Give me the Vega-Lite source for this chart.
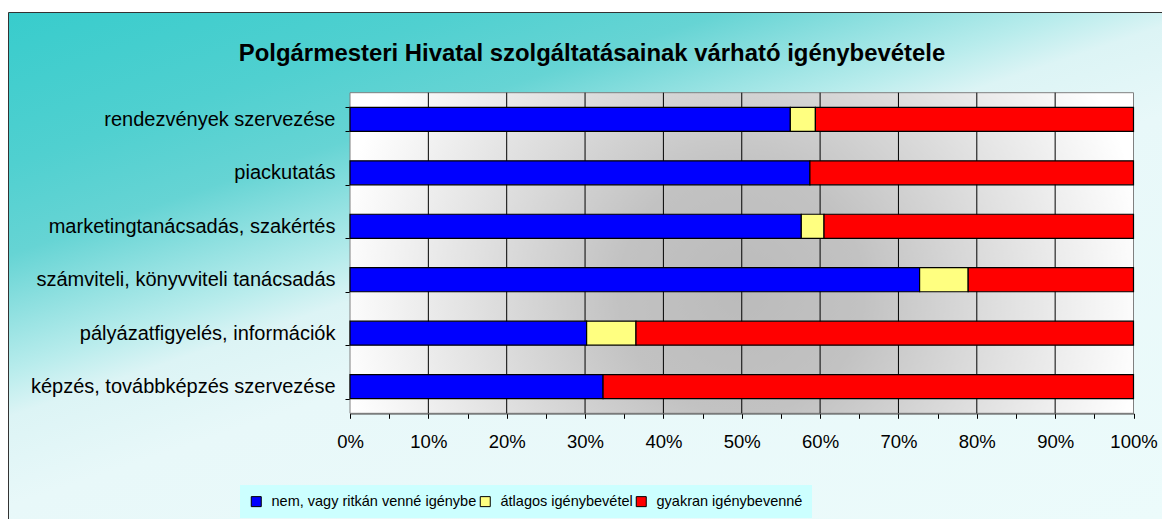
{
  "$schema": "https://vega.github.io/schema/vega-lite/v6.json",
  "width": 1154,
  "height": 507,
  "autosize": {"type": "none"},
  "padding": {"left": 8, "top": 12, "right": 0, "bottom": 0},
  "background": "#ffffff",
  "config": {
    "font": "Liberation Sans",
    "view": {
      "fill": {
        "gradient": "linear", "x1": 0, "y1": 0, "x2": 0.856, "y2": 1.112,
        "stops": [
          {"offset": 0, "color": "#38cccc"},
          {"offset": 0.17, "color": "#50d0d0"},
          {"offset": 0.27, "color": "#66d4d4"},
          {"offset": 0.4, "color": "#b8ecec"},
          {"offset": 0.45, "color": "#dcf4f5"},
          {"offset": 0.55, "color": "#e8f8f9"},
          {"offset": 1, "color": "#ecfbfb"}
        ]
      },
      "stroke": "#333333",
      "strokeWidth": 1
    },
    "axisX": {
      "title": null, "offset": -105.7, "zindex": 1, "grid": false,
      "values": [0, 0.1, 0.2, 0.3, 0.4, 0.5, 0.6, 0.7, 0.8, 0.9, 1],
      "format": ".0%",
      "domain": true, "domainColor": "#404040", "domainWidth": 1.5,
      "ticks": true, "tickSize": 5, "tickColor": "#000000",
      "labelFont": "Liberation Sans", "labelFontSize": 18.5, "labelColor": "#000000",
      "labelPadding": 14, "labelFlush": false
    },
    "axisY": {
      "title": null, "offset": -342, "zindex": 1, "grid": false,
      "domain": true, "domainColor": "#000000", "domainWidth": 1,
      "ticks": true, "tickBand": "extent", "tickSize": 5, "tickColor": "#000000",
      "labelFont": "Liberation Sans", "labelFontSize": 20, "labelColor": "#000000",
      "labelPadding": 10, "labelLimit": 600
    }
  },
  "title": {
    "text": "Polgármesteri Hivatal szolgáltatásainak várható igénybevétele",
    "font": "Liberation Sans",
    "fontSize": 23.9,
    "fontWeight": "bold",
    "color": "#000000",
    "anchor": "middle",
    "frame": "group",
    "baseline": "alphabetic",
    "offset": 0,
    "dy": 83,
    "dx": 7
  },
  "datasets": {
    "valaszok": [
      {"szolgáltatás": "rendezvények szervezése", "válasz": "nem, vagy ritkán venné igénybe", "arány": 56.2},
      {"szolgáltatás": "rendezvények szervezése", "válasz": "átlagos igénybevétel", "arány": 3.2},
      {"szolgáltatás": "rendezvények szervezése", "válasz": "gyakran igénybevenné", "arány": 40.6},
      {"szolgáltatás": "piackutatás", "válasz": "nem, vagy ritkán venné igénybe", "arány": 58.7},
      {"szolgáltatás": "piackutatás", "válasz": "gyakran igénybevenné", "arány": 41.3},
      {"szolgáltatás": "marketingtanácsadás, szakértés", "válasz": "nem, vagy ritkán venné igénybe", "arány": 57.6},
      {"szolgáltatás": "marketingtanácsadás, szakértés", "válasz": "átlagos igénybevétel", "arány": 2.9},
      {"szolgáltatás": "marketingtanácsadás, szakértés", "válasz": "gyakran igénybevenné", "arány": 39.5},
      {"szolgáltatás": "számviteli, könyvviteli tanácsadás", "válasz": "nem, vagy ritkán venné igénybe", "arány": 72.7},
      {"szolgáltatás": "számviteli, könyvviteli tanácsadás", "válasz": "átlagos igénybevétel", "arány": 6.2},
      {"szolgáltatás": "számviteli, könyvviteli tanácsadás", "válasz": "gyakran igénybevenné", "arány": 21.1},
      {"szolgáltatás": "pályázatfigyelés, információk", "válasz": "nem, vagy ritkán venné igénybe", "arány": 30.2},
      {"szolgáltatás": "pályázatfigyelés, információk", "válasz": "átlagos igénybevétel", "arány": 6.3},
      {"szolgáltatás": "pályázatfigyelés, információk", "válasz": "gyakran igénybevenné", "arány": 63.5},
      {"szolgáltatás": "képzés, továbbképzés szervezése", "válasz": "nem, vagy ritkán venné igénybe", "arány": 32.3},
      {"szolgáltatás": "képzés, továbbképzés szervezése", "válasz": "gyakran igénybevenné", "arány": 67.7}
    ],
    "racs": [
      {"osztás": 0.1}, {"osztás": 0.2}, {"osztás": 0.3}, {"osztás": 0.4}, {"osztás": 0.5},
      {"osztás": 0.6}, {"osztás": 0.7}, {"osztás": 0.8}, {"osztás": 0.9}
    ]
  },
  "layer": [
    {
      "data": {"values": [{}]},
      "mark": {
        "type": "rect",
        "stroke": "#808080",
        "strokeWidth": 1,
        "fill": {
          "gradient": "radial", "x1": 0.5, "y1": 0.55, "x2": 0.5, "y2": 0.55, "r1": 0, "r2": 0.52,
          "stops": [
            {"offset": 0, "color": "#bbbbbb"},
            {"offset": 0.3, "color": "#c2c2c2"},
            {"offset": 1, "color": "#ffffff"}
          ]
        }
      },
      "encoding": {
        "x": {"datum": 0, "type": "quantitative", "title": null, "scale": {"domain": [0, 1], "range": [342, 1125.5], "nice": false, "zero": false}},
        "x2": {"datum": 1},
        "y": {"datum": "rendezvények szervezése", "type": "nominal", "bandPosition": -0.6111, "title": null,
              "scale": {"domain": ["rendezvények szervezése", "piackutatás", "marketingtanácsadás, szakértés", "számviteli, könyvviteli tanácsadás", "pályázatfigyelés, információk", "képzés, továbbképzés szervezése"], "range": [80.7, 401.3], "paddingInner": 0.55, "paddingOuter": 0.275}},
        "y2": {"datum": "képzés, továbbképzés szervezése", "bandPosition": 1.6111}
      }
    },
    {
      "data": {"name": "racs"},
      "mark": {"type": "rule", "color": "#000000", "strokeWidth": 1},
      "encoding": {
        "x": {"field": "osztás", "type": "quantitative", "title": null, "scale": {"domain": [0, 1], "range": [342, 1125.5], "nice": false, "zero": false}},
        "y": {"datum": "rendezvények szervezése", "type": "nominal", "bandPosition": -0.6111, "title": null,
              "scale": {"domain": ["rendezvények szervezése", "piackutatás", "marketingtanácsadás, szakértés", "számviteli, könyvviteli tanácsadás", "pályázatfigyelés, információk", "képzés, továbbképzés szervezése"], "range": [80.7, 401.3], "paddingInner": 0.55, "paddingOuter": 0.275}},
        "y2": {"datum": "képzés, továbbképzés szervezése", "bandPosition": 1.6111}
      }
    },
    {
      "data": {"name": "valaszok"},
      "transform": [
        {"calculate": "indexof(['nem, vagy ritkán venné igénybe', 'átlagos igénybevétel', 'gyakran igénybevenné'], datum['válasz'])", "as": "sorrend"}
      ],
      "mark": {"type": "bar", "stroke": "#000000", "strokeWidth": 1.2},
      "encoding": {
        "y": {
          "field": "szolgáltatás", "type": "nominal", "title": null,
          "scale": {"domain": ["rendezvények szervezése", "piackutatás", "marketingtanácsadás, szakértés", "számviteli, könyvviteli tanácsadás", "pályázatfigyelés, információk", "képzés, továbbképzés szervezése"], "range": [80.7, 401.3], "paddingInner": 0.55, "paddingOuter": 0.275}
        },
        "x": {
          "field": "arány", "type": "quantitative", "stack": "normalize", "title": null,
          "scale": {"domain": [0, 1], "range": [342, 1125.5], "nice": false, "zero": false}
        },
        "order": {"field": "sorrend", "type": "quantitative"},
        "color": {
          "field": "válasz", "type": "nominal",
          "sort": ["nem, vagy ritkán venné igénybe", "átlagos igénybevétel", "gyakran igénybevenné"],
          "scale": {"domain": ["nem, vagy ritkán venné igénybe", "átlagos igénybevétel", "gyakran igénybevenné"], "range": ["#0000ff", "#ffff80", "#ff0000"]},
          "legend": {
            "orient": "none", "legendX": 232, "legendY": 473, "direction": "horizontal",
            "title": null, "fillColor": "#ccffff", "padding": 9,
            "labelFont": "Liberation Sans", "labelFontSize": 14.5, "labelColor": "#000000", "labelLimit": 400,
            "symbolType": "square", "symbolSize": 100, "symbolStrokeColor": "#000000", "symbolStrokeWidth": 1,
            "labelOffset": 8, "columnPadding": 1
          }
        }
      }
    }
  ]
}
